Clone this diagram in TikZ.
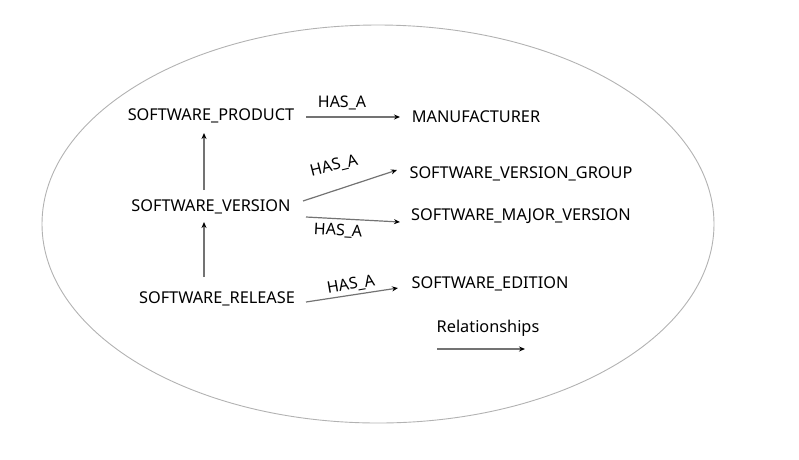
\documentclass[tikz,border=0pt]{standalone}
\usepackage{fontspec}
\setmainfont{Noto Sans}
\usetikzlibrary{arrows.meta}
\begin{document}
\begin{tikzpicture}[x=1pt,y=-1pt,
  ent/.style={inner sep=0pt,font=\fontsize{16.3}{18}\selectfont},
  lbl/.style={inner sep=0pt,font=\fontsize{16}{18}\selectfont},
  rel/.style={draw=black!55,line width=1.2pt,-{Stealth[length=6pt,width=5pt,black]}}]
\useasboundingbox (0,0) rectangle (799,459);
\draw[black!30,line width=0.9pt] (378,224) ellipse [x radius=336, y radius=199];
\node[ent] (prod) at (211,116) {SOFTWARE\_PRODUCT};
\node[ent] (manu) at (476,117) {MANUFACTURER};
\node[ent] (ver) at (211,207) {SOFTWARE\_VERSION};
\node[ent] (rel) at (217,299) {SOFTWARE\_RELEASE};
\node[ent] (grp) at (521,174) {SOFTWARE\_VERSION\_GROUP};
\node[ent] (maj) at (521,216) {SOFTWARE\_MAJOR\_VERSION};
\node[ent] (edi) at (490,284) {SOFTWARE\_EDITION};
\node[ent] (legend) at (488,328) {Relationships};
\coordinate (a1) at (306,117); \coordinate (b1) at (400,117);
\coordinate (a2) at (204,190); \coordinate (b2) at (204,133);
\coordinate (a3) at (204,277); \coordinate (b3) at (204,222);
\coordinate (a4) at (303,201); \coordinate (b4) at (397,170);
\coordinate (a5) at (306,217); \coordinate (b5) at (400,222);
\coordinate (a6) at (306,302); \coordinate (b6) at (398,288);
\coordinate (a7) at (437,349); \coordinate (b7) at (525,349);
\draw[rel] (a1) -- (b1);
\draw[rel] (a2) -- (b2);
\draw[rel] (a3) -- (b3);
\draw[rel] (a4) -- (b4);
\draw[rel] (a5) -- (b5);
\draw[rel] (a6) -- (b6);
\draw[rel] (a7) -- (b7);
\node[lbl] (l1) at (342,103) {HAS\_A};
\node[lbl,rotate=14] (l4) at (334,166) {HAS\_A};
\node[lbl,rotate=-3] (l5) at (338,231) {HAS\_A};
\node[lbl,rotate=10] (l6) at (351,285) {HAS\_A};
\end{tikzpicture}
\end{document}
